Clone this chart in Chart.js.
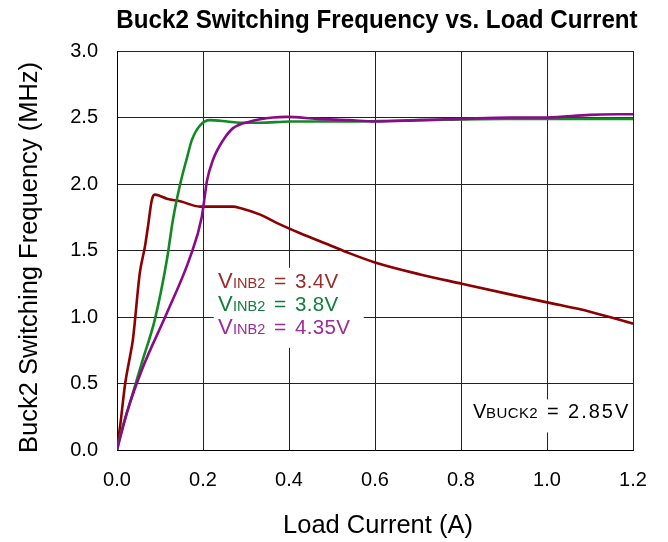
<!DOCTYPE html>
<html>
<head>
<meta charset="utf-8">
<script src="https://cdn.jsdelivr.net/npm/chart.js@4"></script>
<style>
  html,body{margin:0;padding:0;background:#fff}
  #wrap{width:668px;height:542px}
</style>
</head>
<body>
<div id="wrap"><canvas id="c" width="668" height="542"></canvas></div>
<script>
// Buck2 switching frequency (MHz) vs load current (A)
const load34 = [0,0.008,0.019,0.03,0.037,0.053,0.065,0.072,0.081,0.088,0.1,0.116,0.147,0.193,0.23,0.27,0.286,0.333,0.37,0.426,0.495,0.54,0.6,0.705,0.802,0.914,1.0,1.1,1.2];
const freq34 = [0,0.2,0.5,0.70,0.83,1.33,1.53,1.68,1.88,1.92,1.91,1.89,1.87,1.83,1.83,1.83,1.82,1.77,1.71,1.63,1.54,1.48,1.41,1.32,1.25,1.17,1.11,1.04,0.95];

const load38 = [0,0.007,0.037,0.06,0.088,0.116,0.13,0.147,0.163,0.174,0.193,0.216,0.256,0.286,0.333,0.402,0.54,0.7,0.9,1.0,1.2];
const freq38 = [0,0.1,0.43,0.68,0.98,1.43,1.73,2.0,2.2,2.33,2.44,2.48,2.47,2.46,2.46,2.47,2.47,2.48,2.49,2.49,2.49];

const load435 = [0,0.023,0.06,0.116,0.17,0.197,0.205,0.209,0.223,0.247,0.27,0.31,0.363,0.395,0.465,0.54,0.6,0.705,0.8,0.914,1.0,1.1,1.2];
const freq435 = [0,0.28,0.62,1.03,1.45,1.75,1.93,2.02,2.18,2.33,2.42,2.47,2.50,2.505,2.49,2.48,2.47,2.48,2.49,2.5,2.5,2.52,2.525];

const seriesNames = ['3.4V','3.8V','4.35V'];
const xTicks = [0,0.2,0.4,0.6,0.8,1.0,1.2];
const yTicks = [0,0.5,1.0,1.5,2.0,2.5,3.0];

const FONT = "'Liberation Sans', Arial, sans-serif";
const C_RED='#8b0000', C_GRN='#128a23', C_PUR='#8a0a8a';
const T_RED='#9b2c2c', T_GRN='#0f7f3a', T_PUR='#9b2d9b';

const pts=(xs,ys)=>xs.map((x,i)=>({x:x,y:ys[i]}));

const notes={id:'notes',
  beforeDatasetsDraw(chart){
    const {ctx}=chart;
    const xs=chart.scales.x, ys=chart.scales.y;
    ctx.save();
    ctx.fillStyle='#fff';
    // white boxes behind the notes, they hide the grid
    ctx.fillRect(xs.getPixelForValue(0.225),ys.getPixelForValue(1.37),150,80);
    ctx.fillRect(xs.getPixelForValue(0.81),ys.getPixelForValue(0.38),165,33);
    ctx.restore();
  },
  afterDraw(chart){
    const {ctx,chartArea:a}=chart;
    const xs=chart.scales.x, ys=chart.scales.y;
    ctx.save();
    ctx.textBaseline='alphabetic';
    function txt(s,x,y,size,col,ls){
      ctx.fillStyle=col; ctx.font=size+'px '+FONT;
      ctx.letterSpacing=(ls||0)+'px';
      ctx.fillText(s,x,y);
    }
    const cols=[T_RED,T_GRN,T_PUR];
    const lx=xs.getPixelForValue(0.235);
    seriesNames.forEach((n,i)=>{
      const by=288+i*23;
      txt('V',lx,by,22,cols[i]);
      txt('INB2',lx+15,by,14.5,cols[i]);
      txt('=',lx+56,by,21,cols[i]);
      txt(n,lx+77,by,20.5,cols[i],0.3);
    });
    const vx=xs.getPixelForValue(0.828), vy=418;
    txt('V',vx,vy,20,'#000');
    txt('BUCK2',vx+13,vy,15,'#000',0.4);
    txt('=',vx+74,vy,20,'#000');
    txt('2.85V',vx+95,vy,20,'#000',2);
    ctx.letterSpacing='0px';
    // title centred over the plot
    ctx.fillStyle='#000';
    ctx.font='bold 26px '+FONT;
    ctx.textAlign='center';
    ctx.save();
    ctx.translate((a.left+a.right)/2+2,28);
    ctx.scale(0.93,1);
    ctx.fillText('Buck2 Switching Frequency vs. Load Current',0,0);
    ctx.restore();
    // axis titles
    ctx.font='25.5px '+FONT;
    ctx.fillText('Load Current (A)',378,533);
    ctx.translate(37,257.5);
    ctx.rotate(-Math.PI/2);
    ctx.fillText('Buck2 Switching Frequency (MHz)',0,0);
    ctx.restore();
  }
};

new Chart(document.getElementById('c'),{
  type:'line',
  data:{datasets:[
    {label:'VINB2 = '+seriesNames[0],data:pts(load34,freq34),borderColor:C_RED,order:3},
    {label:'VINB2 = '+seriesNames[1],data:pts(load38,freq38),borderColor:C_GRN,order:2},
    {label:'VINB2 = '+seriesNames[2],data:pts(load435,freq435),borderColor:C_PUR,order:1}
  ]},
  options:{
    responsive:false,animation:false,
    parsing:false,
    elements:{line:{borderWidth:2.6,tension:0.25,cubicInterpolationMode:'monotone',fill:false},point:{radius:0}},
    layout:{padding:{top:51,right:35,left:0,bottom:0}},
    plugins:{legend:{display:false},tooltip:{enabled:false},title:{display:false}},
    scales:{
      x:{type:'linear',min:0,max:1.2,
        afterFit(s){s.height=92;},
        afterBuildTicks(s){s.ticks=xTicks.map(v=>({value:v}));},
        ticks:{callback:v=>v.toFixed(1),font:{family:FONT,size:20},color:'#000',padding:18,maxRotation:0},
        grid:{color:'#222',lineWidth:1,drawTicks:false},
        border:{color:'#000',width:1}
      },
      y:{type:'linear',min:0,max:3,
        afterFit(s){s.width=117;},
        afterBuildTicks(s){s.ticks=yTicks.map(v=>({value:v}));},
        ticks:{callback:v=>v.toFixed(1),font:{family:FONT,size:20},color:'#000',padding:19},
        grid:{color:'#222',lineWidth:1,drawTicks:false},
        border:{color:'#000',width:1}
      }
    }
  },
  plugins:[notes]
});
</script>
</body>
</html>
